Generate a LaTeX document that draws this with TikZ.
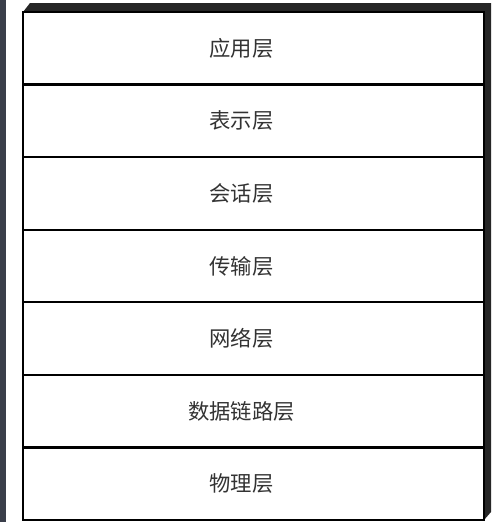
\documentclass[tikz,border=0pt]{standalone}
\usepackage{fontspec}
\newfontfamily\cjk{Noto Sans CJK SC}
\usetikzlibrary{positioning}
\definecolor{edgegrey}{RGB}{58,62,74}

\begin{document}
\begin{tikzpicture}[x=0.75pt, y=-0.75pt, node distance=0pt,
    layer/.style={rectangle, draw, line width=1.8pt, fill=white, minimum width=345.75pt, minimum height=54.43pt, outer sep=0pt, inner sep=0pt},
    lbl/.style={font=\cjk\fontsize{16pt}{18pt}\selectfont, text=black!80, xshift=-9pt}]

\useasboundingbox (0,0) rectangle (494,522);

% Window edge and box depth
\fill[edgegrey] (0,0) rectangle (6,522);
\fill[black!85] (23,12) -- (30,3) -- (491,3) -- (491,512) -- (484,520) -- (484,12) -- cycle;

% Layers
\node[layer, anchor=north west] (app) at (23,12) {};
\node[layer, below=of app] (pres) {};
\node[layer, below=of pres] (sess) {};
\node[layer, below=of sess] (trans) {};
\node[layer, below=of trans] (net) {};
\node[layer, below=of net] (link) {};
\node[layer, below=of link] (phys) {};

% Layer names
\node[lbl] (appname) at (app) {应用层};
\node[lbl] (presname) at (pres) {表示层};
\node[lbl] (sessname) at (sess) {会话层};
\node[lbl] (transname) at (trans) {传输层};
\node[lbl] (netname) at (net) {网络层};
\node[lbl] (linkname) at (link) {数据链路层};
\node[lbl] (physname) at (phys) {物理层};

\end{tikzpicture}
\end{document}
